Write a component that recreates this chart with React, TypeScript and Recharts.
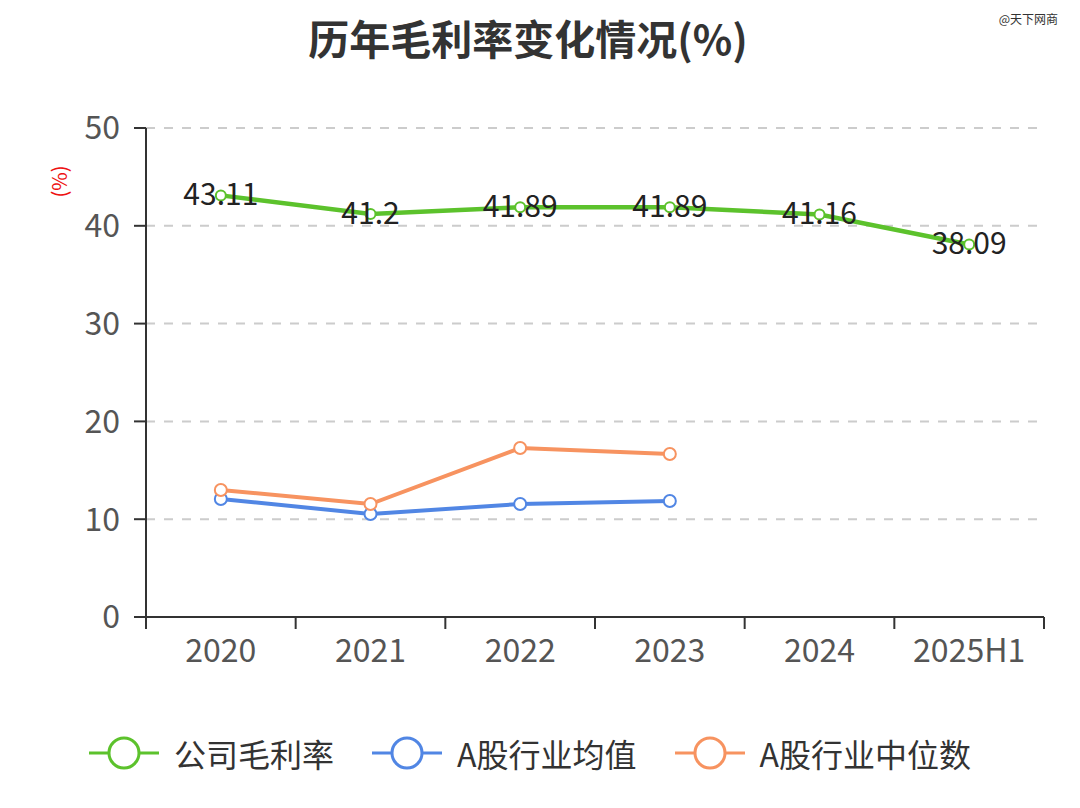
import { CartesianGrid, Line, LineChart, XAxis, YAxis } from 'recharts'

const years = ['2020', '2021', '2022', '2023', '2024', '2025H1']
const companyMargin = [43.11, 41.2, 41.89, 41.89, 41.16, 38.09]
const industryAvg = [12.07, 10.53, 11.55, 11.86, null, null]
const industryMedian = [12.99, 11.55, 17.28, 16.67, null, null]
const yTicks = [0, 10, 20, 30, 40, 50]

const GREEN = '#5cc22c'
const BLUE = '#5186e4'
const ORANGE = '#f79360'
const FONT = '"Noto Sans CJK SC", "Noto Sans", sans-serif'
// half of one category band: plot is 898px wide split into 6 bands
const HALF_BAND = 898 / 12

const chartData = years.map((year, i) => ({
  year,
  company: companyMargin[i],
  avg: industryAvg[i],
  median: industryMedian[i],
}))

const legendItems = [
  { name: '公司毛利率', color: GREEN },
  { name: 'A股行业均值', color: BLUE },
  { name: 'A股行业中位数', color: ORANGE },
]

function XTick(props: any) {
  const { x, y, payload, index } = props
  return (
    <g>
      <line x1={x - HALF_BAND} y1={y - 8} x2={x - HALF_BAND} y2={y + 4} stroke="#333" strokeWidth={2} />
      {index === years.length - 1 && (
        <line x1={x + HALF_BAND} y1={y - 8} x2={x + HALF_BAND} y2={y + 4} stroke="#333" strokeWidth={2} />
      )}
      <text x={x} y={y + 37} textAnchor="middle" fontSize={32} fill="#555" fontFamily={FONT}>
        {payload.value}
      </text>
    </g>
  )
}

function ValueLabel(props: any) {
  const { x, y, value } = props
  return (
    <text
      x={x}
      y={y}
      dy={-3}
      textAnchor="middle"
      dominantBaseline="central"
      fontSize={30}
      fill="#222"
      fontFamily={FONT}
    >
      {value}
    </text>
  )
}

function ChartLegend() {
  return (
    <div
      style={{
        position: 'absolute',
        top: 730,
        left: 0,
        width: 1060,
        display: 'flex',
        justifyContent: 'center',
        alignItems: 'center',
        fontFamily: FONT,
      }}
    >
      {legendItems.map((item, i) => (
        <div
          key={item.name}
          style={{ display: 'flex', alignItems: 'center', marginRight: i < legendItems.length - 1 ? 38 : 0 }}
        >
          <svg width={70} height={40} style={{ marginRight: 15 }}>
            <line x1={0} y1={20} x2={70} y2={20} stroke={item.color} strokeWidth={3} />
            <circle cx={35} cy={20} r={15} fill="#fff" stroke={item.color} strokeWidth={3} />
          </svg>
          <span style={{ fontSize: 32, color: '#333' }}>{item.name}</span>
        </div>
      ))}
    </div>
  )
}

export default function App() {
  return (
    <div style={{ position: 'relative', width: 1080, height: 808, background: '#fff' }}>
      <style>{'body{margin:0}'}</style>
      <div
        style={{
          position: 'absolute',
          top: 7,
          left: 0,
          width: 1056,
          textAlign: 'center',
          fontFamily: FONT,
          fontWeight: 'bold',
          fontSize: 41,
          color: '#333',
        }}
      >
        历年毛利率变化情况(%)
      </div>
      <div
        style={{
          position: 'absolute',
          top: 10,
          right: 22,
          fontFamily: FONT,
          fontSize: 12,
          color: '#333',
        }}
      >
        @天下网商
      </div>
      <LineChart
        width={1080}
        height={808}
        data={chartData}
        margin={{ top: 128, right: 36, left: 0, bottom: 131 }}
      >
        <CartesianGrid vertical={false} stroke="#ccc" strokeWidth={2} strokeDasharray="9 9" />
        <XAxis
          dataKey="year"
          axisLine={{ stroke: '#333', strokeWidth: 2 }}
          tickLine={false}
          tick={<XTick />}
          height={60}
          interval={0}
          padding={{ left: HALF_BAND, right: HALF_BAND }}
        />
        <YAxis
          width={146}
          domain={[0, 50]}
          ticks={yTicks}
          axisLine={{ stroke: '#333', strokeWidth: 2 }}
          tickLine={{ stroke: '#333', strokeWidth: 2 }}
          tickSize={12}
          tickMargin={14}
          tick={{ fontSize: 32, fill: '#555', fontFamily: FONT }}
          label={{
            value: '(%)',
            angle: -90,
            position: 'insideLeft',
            offset: 0,
            dx: 60,
            dy: -175,
            fill: '#ee1111',
            fontSize: 20,
            fontFamily: FONT,
          }}
        />
        <Line
          type="linear"
          dataKey="company"
          stroke={GREEN}
          strokeWidth={4.5}
          dot={{ r: 5, fill: '#fff', stroke: GREEN, strokeWidth: 2 }}
          label={<ValueLabel />}
          isAnimationActive={false}
        />
        <Line
          type="linear"
          dataKey="avg"
          stroke={BLUE}
          strokeWidth={4}
          dot={{ r: 6, fill: '#fff', stroke: BLUE, strokeWidth: 2 }}
          isAnimationActive={false}
        />
        <Line
          type="linear"
          dataKey="median"
          stroke={ORANGE}
          strokeWidth={4}
          dot={{ r: 6, fill: '#fff', stroke: ORANGE, strokeWidth: 2 }}
          isAnimationActive={false}
        />
      </LineChart>
      <ChartLegend />
    </div>
  )
}
